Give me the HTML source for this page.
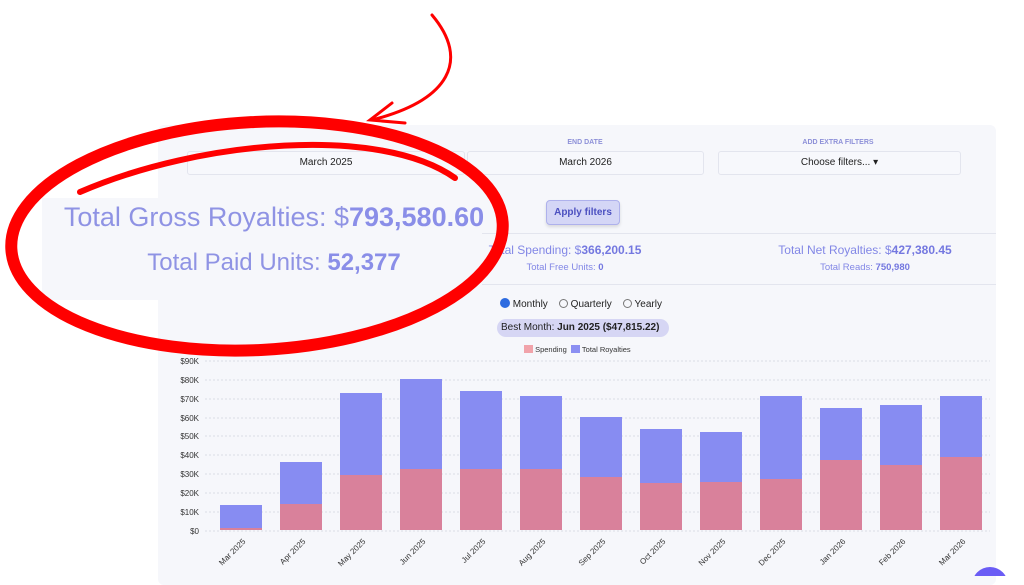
<!DOCTYPE html>
<html><head><meta charset="utf-8"><style>
body{margin:0;width:1024px;height:576px;overflow:hidden;background:#fff;font-family:"Liberation Sans",sans-serif;position:relative}
.a{position:absolute}
.card{left:158px;top:125px;width:838px;height:460px;background:#f6f7fb;border-radius:6px}
.inp{background:#f7f8fc;border:1px solid #e3e5ee;border-radius:3px;font-size:10px;color:#222;text-align:center;line-height:22px;height:22px}
.lbl{font-size:7px;color:#8d90d8;font-weight:bold;text-align:center}
.v{color:#8287e6}
.v b{color:#7478e0}
</style></head><body>
<div class="a card"></div>
<div class="a lbl" style="left:470px;top:139px;width:230px">END DATE</div>
<div class="a lbl" style="left:718px;top:139px;width:240px">ADD EXTRA FILTERS</div>
<div class="a inp" style="left:187px;top:151px;width:276px">March 2025</div>
<div class="a inp" style="left:467px;top:151px;width:235px">March 2026</div>
<div class="a inp" style="left:718px;top:151px;width:241px">Choose filters... ▾</div>
<div class="a" style="left:546px;top:200px;width:72px;height:23px;background:#d4d6f6;border:1px solid #aeb1ec;border-radius:4px;font-size:10px;font-weight:bold;color:#4c50c0;text-align:center;line-height:23px;box-shadow:0 2px 3px rgba(0,0,0,.12)">Apply filters</div>
<div class="a" style="left:375px;top:233px;width:621px;border-top:1px solid #e3e5ee"></div>
<div class="a" style="left:375px;top:284px;width:621px;border-top:1px solid #e3e5ee"></div>
<div class="a v" style="left:470px;top:243px;width:190px;text-align:center;font-size:12px">Total Spending: $<b>366,200.15</b></div>
<div class="a v" style="left:490px;top:262px;width:150px;text-align:center;font-size:9.5px">Total Free Units: <b>0</b></div>
<div class="a v" style="left:760px;top:243px;width:210px;text-align:center;font-size:12px">Total Net Royalties: $<b>427,380.45</b></div>
<div class="a v" style="left:790px;top:262px;width:150px;text-align:center;font-size:9.5px">Total Reads: <b>750,980</b></div>
<div class="a" style="left:500px;top:298px;font-size:10px;color:#222">
<span style="display:inline-block;width:8px;height:8px;border-radius:50%;background:#2d6be0;border:1px solid #2d6be0;vertical-align:-1px"></span> Monthly &nbsp;&nbsp;
<span style="display:inline-block;width:7px;height:7px;border-radius:50%;border:1px solid #777;vertical-align:-1px"></span> Quarterly &nbsp;&nbsp;
<span style="display:inline-block;width:7px;height:7px;border-radius:50%;border:1px solid #777;vertical-align:-1px"></span> Yearly</div>
<div class="a" style="left:497px;top:319px;width:168px;height:18px;background:#d6d6f4;border-radius:9px;font-size:10px;color:#222;line-height:18px;padding-left:4px">Best Month: <b>Jun 2025 ($47,815.22)</b></div>
<div class="a" style="left:524px;top:345px;font-size:7.5px;color:#333"><span style="display:inline-block;width:9px;height:8px;background:#f1a3aa;vertical-align:-1px"></span> Spending &nbsp;<span style="display:inline-block;width:9px;height:8px;background:#8b8ff2;vertical-align:-1px"></span> Total Royalties</div>
<svg class="a" style="left:0;top:0" width="1024" height="576">
<g font-size="8" fill="#333" text-anchor="end" font-family="Liberation Sans">
<g stroke="#dadde6" stroke-dasharray="2,2" stroke-width="1">
<line x1="205" x2="990" y1="531" y2="531"/><line x1="205" x2="990" y1="512" y2="512"/><line x1="205" x2="990" y1="493" y2="493"/><line x1="205" x2="990" y1="474" y2="474"/><line x1="205" x2="990" y1="455" y2="455"/><line x1="205" x2="990" y1="436" y2="436"/><line x1="205" x2="990" y1="418" y2="418"/><line x1="205" x2="990" y1="399" y2="399"/><line x1="205" x2="990" y1="380" y2="380"/><line x1="205" x2="990" y1="361" y2="361"/></g>
<text x="199" y="534">$0</text><text x="199" y="515">$10K</text><text x="199" y="496">$20K</text><text x="199" y="477">$30K</text><text x="199" y="458">$40K</text><text x="199" y="439">$50K</text><text x="199" y="421">$60K</text><text x="199" y="402">$70K</text><text x="199" y="383">$80K</text><text x="199" y="364">$90K</text>
</g>
<g>
<rect x="220" y="505" width="42" height="23" fill="#878cf2"/><rect x="220" y="528" width="42" height="2" fill="#d9819b"/>
<rect x="280" y="462" width="42" height="42" fill="#878cf2"/><rect x="280" y="504" width="42" height="26" fill="#d9819b"/>
<rect x="340" y="393" width="42" height="82" fill="#878cf2"/><rect x="340" y="475" width="42" height="55" fill="#d9819b"/>
<rect x="400" y="379" width="42" height="90" fill="#878cf2"/><rect x="400" y="469" width="42" height="61" fill="#d9819b"/>
<rect x="460" y="391" width="42" height="78" fill="#878cf2"/><rect x="460" y="469" width="42" height="61" fill="#d9819b"/>
<rect x="520" y="396" width="42" height="73" fill="#878cf2"/><rect x="520" y="469" width="42" height="61" fill="#d9819b"/>
<rect x="580" y="417" width="42" height="60" fill="#878cf2"/><rect x="580" y="477" width="42" height="53" fill="#d9819b"/>
<rect x="640" y="429" width="42" height="54" fill="#878cf2"/><rect x="640" y="483" width="42" height="47" fill="#d9819b"/>
<rect x="700" y="432" width="42" height="50" fill="#878cf2"/><rect x="700" y="482" width="42" height="48" fill="#d9819b"/>
<rect x="760" y="396" width="42" height="83" fill="#878cf2"/><rect x="760" y="479" width="42" height="51" fill="#d9819b"/>
<rect x="820" y="408" width="42" height="52" fill="#878cf2"/><rect x="820" y="460" width="42" height="70" fill="#d9819b"/>
<rect x="880" y="405" width="42" height="60" fill="#878cf2"/><rect x="880" y="465" width="42" height="65" fill="#d9819b"/>
<rect x="940" y="396" width="42" height="61" fill="#878cf2"/><rect x="940" y="457" width="42" height="73" fill="#d9819b"/>
</g>
<g font-size="8" fill="#333" text-anchor="end" font-family="Liberation Sans">
<text transform="translate(246,542) rotate(-45)">Mar 2025</text>
<text transform="translate(306,542) rotate(-45)">Apr 2025</text>
<text transform="translate(366,542) rotate(-45)">May 2025</text>
<text transform="translate(426,542) rotate(-45)">Jun 2025</text>
<text transform="translate(486,542) rotate(-45)">Jul 2025</text>
<text transform="translate(546,542) rotate(-45)">Aug 2025</text>
<text transform="translate(606,542) rotate(-45)">Sep 2025</text>
<text transform="translate(666,542) rotate(-45)">Oct 2025</text>
<text transform="translate(726,542) rotate(-45)">Nov 2025</text>
<text transform="translate(786,542) rotate(-45)">Dec 2025</text>
<text transform="translate(846,542) rotate(-45)">Jan 2026</text>
<text transform="translate(906,542) rotate(-45)">Feb 2026</text>
<text transform="translate(966,542) rotate(-45)">Mar 2026</text>
</g>
</svg>
<div class="a" style="left:42px;top:198px;width:440px;height:102px;background:#f6f7fb"></div>
<div class="a" style="left:42px;top:202px;width:464px;text-align:center;font-size:27px;color:#8f93e4;white-space:nowrap">Total Gross Royalties: $<b style="color:#8a8ee8">793,580.60</b></div>
<div class="a" style="left:42px;top:249px;width:464px;text-align:center;font-size:24px;color:#8f93e4;white-space:nowrap">Total Paid Units: <b style="color:#8a8ee8">52,377</b></div>
<svg class="a" style="left:0;top:0" width="1024" height="576">
<g fill="none" stroke="#f00" stroke-linecap="round">
<ellipse cx="257" cy="236" rx="246" ry="114" transform="rotate(-3 257 236)" stroke-width="12"/>
<path d="M80 192 C200 140 380 125 455 178" stroke-width="6"/>
<path d="M432 15 C470 60 450 100 372 120" stroke-width="3"/>
<path d="M392 103 L370 120 L405 123" stroke-width="3"/>
</g>
<circle cx="990" cy="585" r="18" fill="#6a5cf5"/>
</svg>
</body></html>
